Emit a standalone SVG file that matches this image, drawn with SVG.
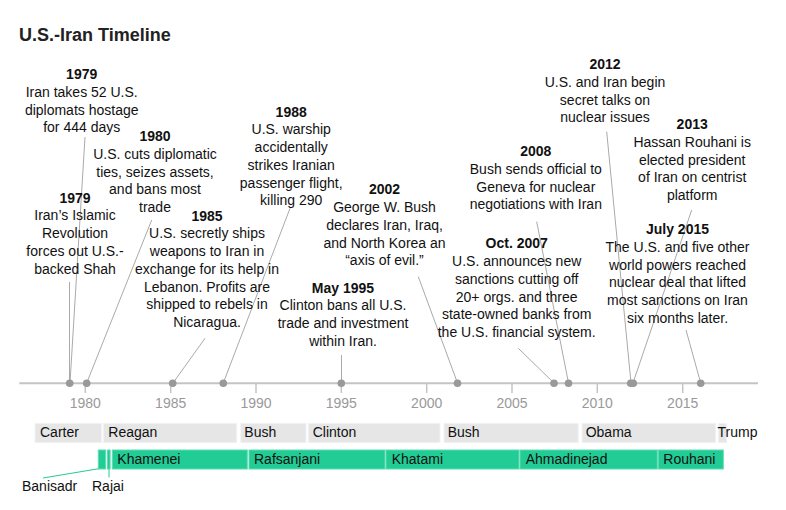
<svg xmlns="http://www.w3.org/2000/svg" width="786" height="510" viewBox="0 0 786 510">
<style>
  text { font-family: "Liberation Sans", Arial, sans-serif; }
  .title { font-size: 18px; font-weight: bold; fill: #222; }
  .yr { font-size: 14px; font-weight: bold; fill: #111; text-anchor: middle; }
  .body { font-size: 14px; fill: #111; text-anchor: middle; }
  .tick { font-size: 14px; fill: #999; text-anchor: middle; }
  .lbl { font-size: 14px; fill: #111; }
  .lead { stroke: #aaa; stroke-width: 1; fill: none; }
  .dot { fill: #999; }
  .axis { stroke: #c4c4c4; stroke-width: 2; }
  .tk { stroke: #c4c4c4; stroke-width: 1.5; }
  .pres { fill: #e6e6e6; stroke: #f3f3f3; stroke-width: 1; }
  .lead2 { fill: #21cc95; stroke: #5fdcb2; stroke-width: 1; }
  .gl { stroke: #21cc95; stroke-width: 1; fill: none; }
</style>
<rect width="786" height="510" fill="#fff"/>
<text class="title" x="19" y="41">U.S.-Iran Timeline</text>

<g id="connectors">
  <line class="lead" x1="85" y1="137" x2="70" y2="383"/>
  <line class="lead" x1="69.5" y1="282" x2="69.5" y2="383"/>
  <line class="lead" x1="151.7" y1="220" x2="86.7" y2="383"/>
  <line class="lead" x1="205" y1="338.3" x2="173" y2="383"/>
  <line class="lead" x1="290" y1="208.3" x2="223.3" y2="383"/>
  <line class="lead" x1="341.5" y1="355" x2="341.5" y2="383"/>
  <line class="lead" x1="418.3" y1="276.7" x2="457.5" y2="383"/>
  <line class="lead" x1="518.3" y1="348.3" x2="554" y2="383"/>
  <line class="lead" x1="536.7" y1="221.7" x2="568.5" y2="383"/>
  <line class="lead" x1="606.7" y1="131.7" x2="631" y2="383"/>
  <line class="lead" x1="691.7" y1="210" x2="633" y2="383"/>
  <line class="lead" x1="686" y1="330" x2="700.7" y2="383"/>
  <line class="gl" x1="100" y1="468.5" x2="43" y2="478"/>
  <line class="gl" x1="109" y1="468.5" x2="109" y2="477.5"/>
</g>

<g id="axis">
  <line class="axis" x1="19.3" y1="383.3" x2="758" y2="383.3"/>
  <line class="tk" x1="85.3" y1="383" x2="85.3" y2="393"/>
  <line class="tk" x1="170.7" y1="383" x2="170.7" y2="393"/>
  <line class="tk" x1="256" y1="383" x2="256" y2="393"/>
  <line class="tk" x1="341.3" y1="383" x2="341.3" y2="393"/>
  <line class="tk" x1="426.7" y1="383" x2="426.7" y2="393"/>
  <line class="tk" x1="512" y1="383" x2="512" y2="393"/>
  <line class="tk" x1="597.3" y1="383" x2="597.3" y2="393"/>
  <line class="tk" x1="682.7" y1="383" x2="682.7" y2="393"/>
  <text class="tick" x="85.3" y="408">1980</text>
  <text class="tick" x="170.7" y="408">1985</text>
  <text class="tick" x="256" y="408">1990</text>
  <text class="tick" x="341.3" y="408">1995</text>
  <text class="tick" x="426.7" y="408">2000</text>
  <text class="tick" x="512" y="408">2005</text>
  <text class="tick" x="597.3" y="408">2010</text>
  <text class="tick" x="682.7" y="408">2015</text>
</g>

<g id="dots">
  <circle class="dot" cx="69.7" cy="383.3" r="3.8"/>
  <circle class="dot" cx="86.7" cy="383.3" r="3.8"/>
  <circle class="dot" cx="172.7" cy="383.3" r="3.8"/>
  <circle class="dot" cx="223.3" cy="383.3" r="3.8"/>
  <circle class="dot" cx="341.3" cy="383.3" r="3.8"/>
  <circle class="dot" cx="457.5" cy="383.3" r="3.8"/>
  <circle class="dot" cx="554" cy="383.3" r="3.8"/>
  <circle class="dot" cx="568.5" cy="383.3" r="3.8"/>
  <circle class="dot" cx="630.7" cy="383.3" r="3.8"/>
  <circle class="dot" cx="633.3" cy="383.3" r="3.8"/>
  <circle class="dot" cx="700.7" cy="383.3" r="3.8"/>
</g>

<g id="ev-1979-hostage">
  <text class="yr" x="81.7" y="79">1979</text>
  <text class="body" x="81.7" y="96.75">Iran takes 52 U.S.</text>
  <text class="body" x="81.7" y="114.5">diplomats hostage</text>
  <text class="body" x="81.7" y="132.25">for 444 days</text>
</g>
<g id="ev-1980">
  <text class="yr" x="155" y="141">1980</text>
  <text class="body" x="155" y="158.75">U.S. cuts diplomatic</text>
  <text class="body" x="155" y="176.5">ties, seizes assets,</text>
  <text class="body" x="155" y="194.25">and bans most</text>
  <text class="body" x="155" y="212">trade</text>
</g>
<g id="ev-1979-revolution">
  <text class="yr" x="75" y="202.7">1979</text>
  <text class="body" x="75" y="220.45">Iran’s Islamic</text>
  <text class="body" x="75" y="238.2">Revolution</text>
  <text class="body" x="75" y="255.95">forces out U.S.-</text>
  <text class="body" x="75" y="273.7">backed Shah</text>
</g>
<g id="ev-1985">
  <text class="yr" x="207" y="220.7">1985</text>
  <text class="body" x="207" y="238.45">U.S. secretly ships</text>
  <text class="body" x="207" y="256.2">weapons to Iran in</text>
  <text class="body" x="207" y="273.95">exchange for its help in</text>
  <text class="body" x="207" y="291.7">Lebanon. Profits are</text>
  <text class="body" x="207" y="309.45">shipped to rebels in</text>
  <text class="body" x="207" y="327.2">Nicaragua.</text>
</g>
<g id="ev-1988">
  <text class="yr" x="291.2" y="116.7">1988</text>
  <text class="body" x="291.2" y="134.45">U.S. warship</text>
  <text class="body" x="291.2" y="152.2">accidentally</text>
  <text class="body" x="291.2" y="169.95">strikes Iranian</text>
  <text class="body" x="291.2" y="187.7">passenger flight,</text>
  <text class="body" x="291.2" y="205.45">killing 290</text>
</g>
<g id="ev-2002">
  <text class="yr" x="384.5" y="194.3">2002</text>
  <text class="body" x="384.5" y="212.05">George W. Bush</text>
  <text class="body" x="384.5" y="229.8">declares Iran, Iraq,</text>
  <text class="body" x="384.5" y="247.55">and North Korea an</text>
  <text class="body" x="384.5" y="265.3">“axis of evil.”</text>
</g>
<g id="ev-1995">
  <text class="yr" x="343" y="292.7">May 1995</text>
  <text class="body" x="343" y="310.45">Clinton bans all U.S.</text>
  <text class="body" x="343" y="328.2">trade and investment</text>
  <text class="body" x="343" y="345.95">within Iran.</text>
</g>
<g id="ev-2012">
  <text class="yr" x="605" y="69">2012</text>
  <text class="body" x="605" y="86.75">U.S. and Iran begin</text>
  <text class="body" x="605" y="104.5">secret talks on</text>
  <text class="body" x="605" y="122.25">nuclear issues</text>
</g>
<g id="ev-2013">
  <text class="yr" x="692.2" y="129">2013</text>
  <text class="body" x="692.2" y="146.75">Hassan Rouhani is</text>
  <text class="body" x="692.2" y="164.5">elected president</text>
  <text class="body" x="692.2" y="182.25">of Iran on centrist</text>
  <text class="body" x="692.2" y="200">platform</text>
</g>
<g id="ev-2008">
  <text class="yr" x="535.8" y="156">2008</text>
  <text class="body" x="535.8" y="173.75">Bush sends official to</text>
  <text class="body" x="535.8" y="191.5">Geneva for nuclear</text>
  <text class="body" x="535.8" y="209.25">negotiations with Iran</text>
</g>
<g id="ev-2007">
  <text class="yr" x="516.7" y="248.3">Oct. 2007</text>
  <text class="body" x="516.7" y="266.05">U.S. announces new</text>
  <text class="body" x="516.7" y="283.8">sanctions cutting off</text>
  <text class="body" x="516.7" y="301.55">20+ orgs. and three</text>
  <text class="body" x="516.7" y="319.3">state-owned banks from</text>
  <text class="body" x="516.7" y="337.05">the U.S. financial system.</text>
</g>
<g id="ev-2015">
  <text class="yr" x="677.5" y="234">July 2015</text>
  <text class="body" x="677.5" y="251.75">The U.S. and five other</text>
  <text class="body" x="677.5" y="269.5">world powers reached</text>
  <text class="body" x="677.5" y="287.25">nuclear deal that lifted</text>
  <text class="body" x="677.5" y="305">most sanctions on Iran</text>
  <text class="body" x="677.5" y="322.75">six months later.</text>
</g>

<g id="presidents">
  <rect class="pres" x="35" y="423.3" width="66.7" height="19.4"/>
  <rect class="pres" x="103.3" y="423.3" width="133.4" height="19.4"/>
  <rect class="pres" x="240.7" y="423.3" width="65.3" height="19.4"/>
  <rect class="pres" x="308.3" y="423.3" width="131.7" height="19.4"/>
  <rect class="pres" x="444" y="423.3" width="134.3" height="19.4"/>
  <rect class="pres" x="582" y="423.3" width="133.7" height="19.4"/>
  <rect class="pres" x="718.3" y="423.3" width="8.4" height="19.4"/>
  <text class="lbl" x="40" y="437">Carter</text>
  <text class="lbl" x="108.3" y="437">Reagan</text>
  <text class="lbl" x="244.3" y="437">Bush</text>
  <text class="lbl" x="312.7" y="437">Clinton</text>
  <text class="lbl" x="447.7" y="437">Bush</text>
  <text class="lbl" x="585.7" y="437">Obama</text>
  <text class="lbl" x="717.5" y="437">Trump</text>
</g>

<g id="leaders">
  <rect class="lead2" x="98.3" y="450" width="7.4" height="19"/>
  <rect class="lead2" x="107.5" y="450" width="2.6" height="19"/>
  <rect class="lead2" x="112.3" y="450" width="135" height="19"/>
  <rect class="lead2" x="249" y="450" width="136" height="19"/>
  <rect class="lead2" x="386" y="450" width="133" height="19"/>
  <rect class="lead2" x="520" y="450" width="137.3" height="19"/>
  <rect class="lead2" x="658.3" y="450" width="65" height="19"/>
  <text class="lbl" x="117.3" y="464">Khamenei</text>
  <text class="lbl" x="254" y="464">Rafsanjani</text>
  <text class="lbl" x="391.7" y="464">Khatami</text>
  <text class="lbl" x="525.7" y="464">Ahmadinejad</text>
  <text class="lbl" x="663.3" y="464">Rouhani</text>
  <text class="lbl" x="22" y="490.5">Banisadr</text>
  <text class="lbl" x="92" y="490.5">Rajai</text>
</g>
</svg>
